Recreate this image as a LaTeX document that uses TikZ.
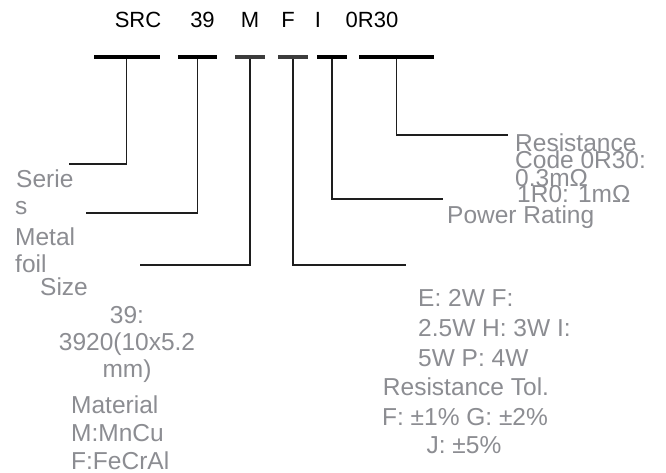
\documentclass[tikz,border=0pt]{standalone}
\usepackage{fontspec}
\setmainfont{Liberation Sans}
\definecolor{txtgray}{RGB}{140,141,146}
\definecolor{linedark}{RGB}{30,30,30}
\definecolor{bargray}{RGB}{60,60,60}
\tikzset{
  lbl/.style={text=txtgray, inner sep=0pt, font=\fontsize{24.5}{24.5}\selectfont},
  ttl/.style={text=black, inner sep=0pt, anchor=base, font=\fontsize{22}{22}\selectfont},
  bar/.style={fill=black, draw=none, inner sep=0pt, minimum height=4.5pt},
  lbar/.style={fill=bargray, draw=none, inner sep=0pt, minimum height=3.5pt},
  conn/.style={draw=linedark, line width=1.3pt}
}
\begin{document}
\begin{tikzpicture}[x=1pt,y=-1pt]
\useasboundingbox[fill=white] (0,0) rectangle (666,473);
% title
\node[ttl] (tSRC) at (138,28) {SRC};
\node[ttl] (t39) at (202.5,28) {39};
\node[ttl] (tM) at (250,28) {M};
\node[ttl] (tF) at (288,28) {F};
\node[ttl] (tI) at (318,28) {I};
\node[ttl] (tR) at (372,28) {0R30};
% bars
\node[bar, minimum width=66pt] (b1) at (126.5,57) {};
\node[bar, minimum width=39pt] (b2) at (197.5,57) {};
\node[lbar, minimum width=30pt] (b3) at (250,57) {};
\node[lbar, minimum width=30pt] (b4) at (293,57) {};
\node[bar, minimum width=30pt] (b5) at (332,57) {};
\node[bar, minimum width=75pt] (b6) at (396.5,57) {};
% connector ends
\coordinate (e1) at (69,164);
\coordinate (e2) at (86,213);
\coordinate (e3) at (140,265);
\coordinate (e4) at (406,265);
\coordinate (e5) at (443,199);
\coordinate (e6) at (508,135);
\draw[conn] (b1.south) |- (e1);
\draw[conn] (b2.south) |- (e2);
\draw[conn] (b3.south) |- (e3);
\draw[conn] (b4.south) |- (e4);
\draw[conn] (b5.south) |- (e5);
\draw[conn] (b6.south) |- (e6);
% left labels
\node[lbl, anchor=base west] (l1) at (16,187) {Serie};
\node[lbl, anchor=base west] (l2) at (15,214) {s};
\node[lbl, anchor=base west] (l3) at (15,245) {Metal};
\node[lbl, anchor=base west] (l4) at (15,272) {foil};
\node[lbl, anchor=base west] (l5) at (40,295) {Size};
\node[lbl, anchor=base] (l6) at (127,323) {39:};
\node[lbl, anchor=base] (l7) at (127,350) {3920(10x5.2};
\node[lbl, anchor=base] (l8) at (127,377) {mm)};
\node[lbl, anchor=base west] (l9) at (71,413) {Material};
\node[lbl, anchor=base west] (l10) at (71,441) {M:MnCu};
\node[lbl, anchor=base west] (l11) at (71,469) {F:FeCrAl};
% right labels
\node[lbl, anchor=base west] (r1) at (418,306) {E: 2W F:};
\node[lbl, anchor=base west] (r2) at (418,336) {2.5W H: 3W I:};
\node[lbl, anchor=base west] (r3) at (418,366) {5W P: 4W};
\node[lbl, anchor=base] (r4) at (466,395) {Resistance Tol.};
\node[lbl, anchor=base] (r5) at (465,425) {F: ±1\% G: ±2\%};
\node[lbl, anchor=base] (r6) at (464,453) {J: ±5\%};
% top right labels (tightly stacked, as in the reference)
\node[lbl, anchor=base west] (c1) at (515,152) {Resistance};
\node[lbl, anchor=base west] (c2) at (515,169) {Code 0R30:};
\node[lbl, anchor=base west] (c3) at (515,186) {0.3mΩ};
\node[lbl, anchor=base west] (c4) at (517,202) {1R0: 1mΩ};
\node[lbl, anchor=base west] (p1) at (447,223) {Power Rating};
\end{tikzpicture}
\end{document}
